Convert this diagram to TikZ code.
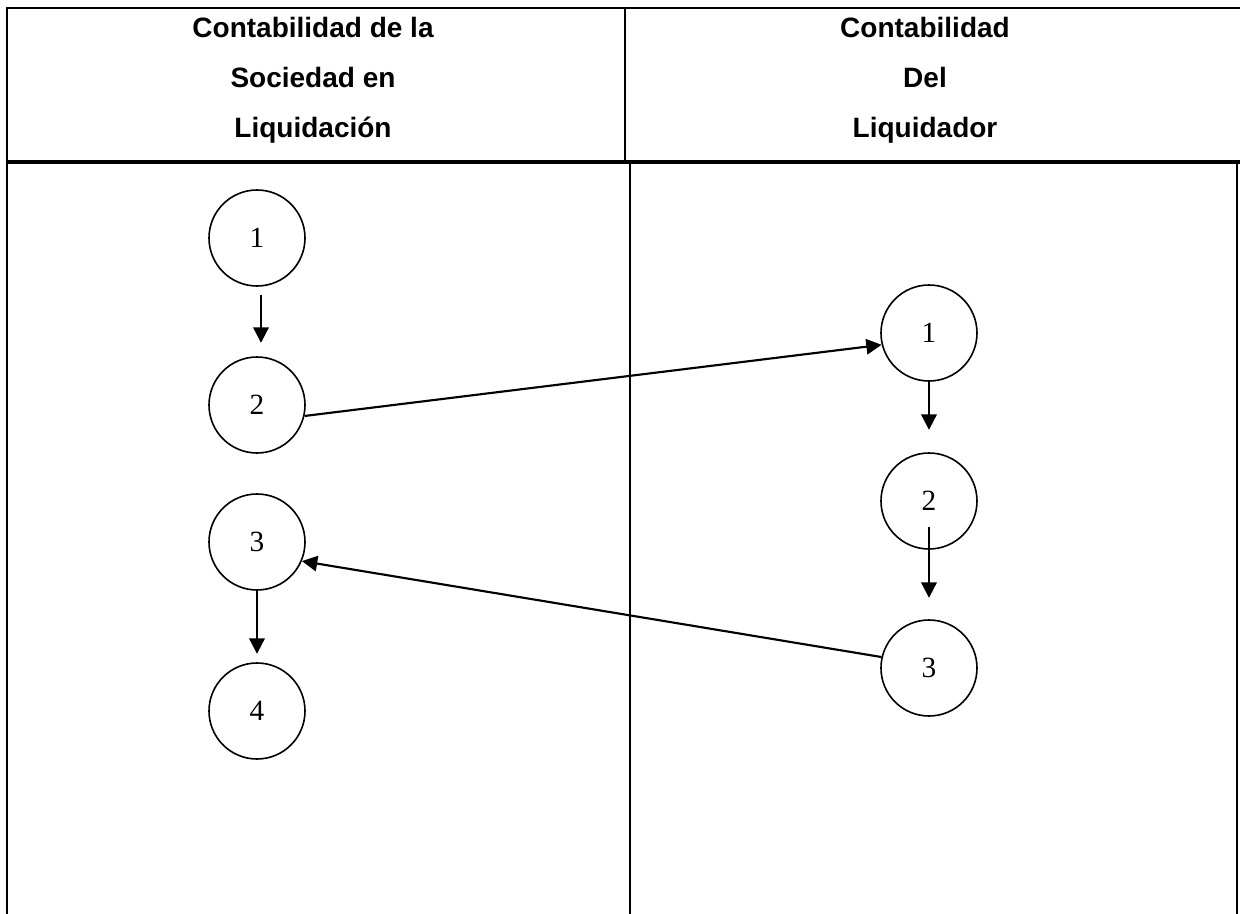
\documentclass[tikz,border=0pt]{standalone}
\usepackage{fontspec}
\setmainfont{Liberation Serif}
\newfontfamily\headfont{Liberation Sans}
\usetikzlibrary{arrows.meta,calc}
\begin{document}
\begin{tikzpicture}[x=0.75pt,y=-0.75pt,
  thinrule/.style={line width=1.5pt},
  thickrule/.style={line width=3pt},
  stage/.style={circle,draw,line width=1.2pt,minimum size=72pt,inner sep=0pt,font=\fontsize{22}{24}\selectfont},
  head/.style={anchor=base,font=\headfont\bfseries\fontsize{21}{24}\selectfont},
  flow/.style={line width=1.6pt,-{Triangle[length=11.5pt,width=11.5pt]}}]
\useasboundingbox (0,0) rectangle (1240,914);
% table frame
\coordinate (tl) at (6.7,7.5);
\coordinate (tr) at (1240,7.5);
\coordinate (bl) at (6.7,914);
\coordinate (ml) at (0,162);
\coordinate (mr) at (1240,162);
\coordinate (dtop) at (625,7.5);
\coordinate (dbot) at (625,160);
\coordinate (ltop) at (630,164);
\coordinate (lbot) at (630,914);
\coordinate (rtop) at (1237,162);
\coordinate (rbot) at (1237,914);
\draw[thinrule] (tr) -- (tl) -- (bl);
\draw[thickrule] (ml -| tl) -- (mr);
\draw[thinrule] (dtop) -- (dbot);
\draw[thinrule] (ltop) -- (lbot);
\draw[thinrule] (rtop) -- (rbot);
% header texts
\node[head] (h1) at (313,37) {Contabilidad de la};
\node[head] (h2) at (313,87) {Sociedad en};
\node[head] (h3) at (313,137) {Liquidación};
\node[head] (h4) at (925,37) {Contabilidad};
\node[head] (h5) at (925,87) {Del};
\node[head] (h6) at (925,137) {Liquidador};
% circles
\node[stage] (c1) at (257,238) {1};
\node[stage] (c2) at (257,405) {2};
\node[stage] (c3) at (257,542) {3};
\node[stage] (c4) at (257,711) {4};
\node[stage] (r1) at (929,333) {1};
\node[stage] (r2) at (929,501) {2};
\node[stage] (r3) at (929,668) {3};
% connectors
\draw[flow] ($(c1.south)+(4,8)$) -- ($(c1.south)+(4,56)$);
\draw[flow] (c2.-13) -- (r1.194);
\draw[flow] (r1.south) -- ($(r1.south)+(0,48)$);
\draw[flow] ($(r2.center)+(0,26)$) -- ($(r2.south)+(0,48)$);
\draw[flow] (r3.167) -- (c3.-23);
\draw[flow] (c3.south) -- ($(c3.south)+(0,63)$);
\end{tikzpicture}
\end{document}
